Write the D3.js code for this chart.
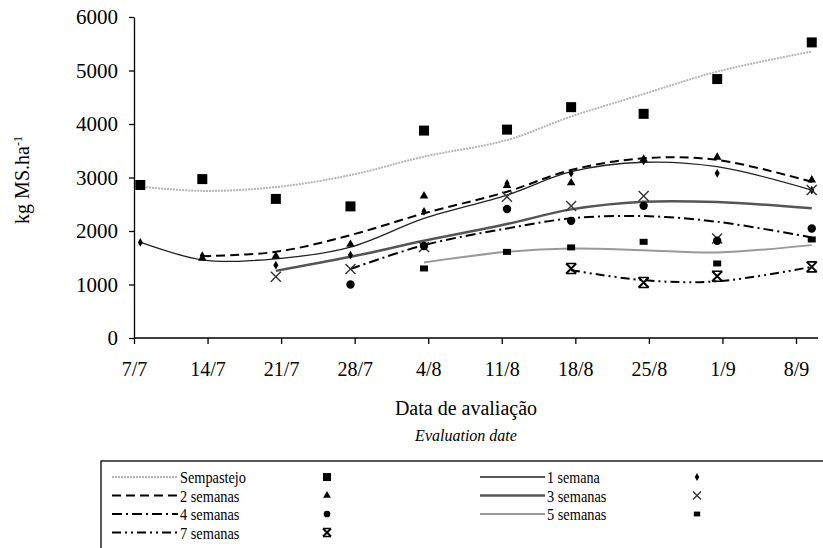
<!DOCTYPE html>
<html>
<head>
<meta charset="utf-8">
<script src="https://cdn.jsdelivr.net/npm/d3@7/dist/d3.min.js"></script>
<style>
  body { margin: 0; background: #fff; }
  svg text { font-family: "Liberation Serif", "Times New Roman", Times, serif; fill: #000; }
</style>
</head>
<body>
<script>

// sampling days (days after 7/7) and tick labels
var dias = [0.6, 6.5, 13.5, 20.6, 27.6, 35.5, 41.6, 48.5, 55.5, 64.5]
var tickDias = [0, 7, 14, 21, 28, 35, 42, 49, 56, 63]
var tickLabels = ["7/7", "14/7", "21/7", "28/7", "4/8", "11/8", "18/8", "25/8", "1/9", "8/9"]

// observed points
var semPastejo = [2860, 2970, 2600, 2460, 3877, 3895, 4315, 4190, 4840, 5525]
var sem1 = [1786, 1540, 1360, 1550, 2367, 2890, 3080, 3310, 3079, 2766]
var sem2 = [null, 1490, 1530, 1750, 2653, 2850, 2900, 3340, 3378, 2953]
var sem3 = [null, null, 1143, 1290, 1700, 2640, 2466, 2653, 1861, 2766]
var sem4 = [null, null, null, 1000, 1720, 2410, 2190, 2470, 1817, 2048]
var sem5 = [null, null, null, null, 1300, 1610, 1693, 1798, 1393, 1842]
var sem7 = [null, null, null, null, null, null, 1300, 1037, 1155, 1330]

// fitted curves
var fitSemPastejo = [2830, 2750, 2820, 3045, 3390, 3700, 4140, 4560, 4980, 5355]
var fit1 = [1790, 1460, 1480, 1700, 2236, 2672, 3109, 3285, 3202, 2766]
var fit2 = [null, 1530, 1610, 1923, 2330, 2734, 3140, 3360, 3328, 2921]
var fit3 = [null, null, 1255, 1517, 1817, 2130, 2404, 2547, 2541, 2423]
var fit4 = [null, null, null, 1290, 1736, 2048, 2236, 2279, 2172, 1880]
var fit5 = [null, null, null, null, 1412, 1610, 1674, 1642, 1600, 1736]
var fit7 = [null, null, null, null, null, null, 1268, 1080, 1060, 1330]

var yTicks = [0, 1000, 2000, 3000, 4000, 5000, 6000]

var series = [
    {nome: "Sempastejo", pts: semPastejo, fit: fitSemPastejo, cor: "#b5b5b5", w: 2, dash: "2,1", mk: "square"},
    {nome: "1 semana", pts: sem1, fit: fit1, cor: "#222", w: 1.3, dash: null, mk: "diamond"},
    {nome: "2 semanas", pts: sem2, fit: fit2, cor: "#000", w: 2, dash: "9,5", mk: "triangle"},
    {nome: "3 semanas", pts: sem3, fit: fit3, cor: "#555", w: 2.5, dash: null, mk: "x"},
    {nome: "4 semanas", pts: sem4, fit: fit4, cor: "#000", w: 2, dash: "10,4,2,4", mk: "circle"},
    {nome: "5 semanas", pts: sem5, fit: fit5, cor: "#999", w: 2, dash: null, mk: "rect"},
    {nome: "7 semanas", pts: sem7, fit: fit7, cor: "#000", w: 2, dash: "9,4,2,4,2,4", mk: "xbar"}
]

var fonte = "'Liberation Serif', 'Times New Roman', serif";

var svg = d3.select("body").append("svg")
          .attr("width", 823)
          .attr("height", 548)
          .attr("font-family", fonte);

var x = d3.scaleLinear().domain([0, 63]).range([134, 796]);
var y = d3.scaleLinear().domain([0, 6000]).range([338, 17]);

// y axis
svg.append("g")
    .attr("transform", "translate(134,0)")
    .call(d3.axisLeft(y).tickValues(yTicks).tickFormat(d3.format("d")).tickSize(5).tickSizeOuter(0).tickPadding(11))
    .call(function(g) {
        g.attr("font-family", fonte).attr("font-size", 21);
        g.selectAll("line, path").attr("stroke", "#000").attr("stroke-width", 1.3);
    });

// x axis
svg.append("g")
    .attr("transform", "translate(0,338)")
    .call(d3.axisBottom(x).tickValues(tickDias).tickFormat(function(d, i) {return tickLabels[i]})
        .tickSize(6).tickSizeOuter(0).tickPadding(18))
    .call(function(g) {
        g.attr("font-family", fonte).attr("font-size", 20);
        g.select(".domain").remove();
        g.selectAll("line").attr("stroke", "#000").attr("stroke-width", 1.3);
    });
svg.append("line")
    .attr("x1", 134).attr("x2", 818).attr("y1", 338).attr("y2", 338)
    .attr("stroke", "#000").attr("stroke-width", 1.3);

// titles
svg.append("text")
    .attr("x", 466).attr("y", 415)
    .attr("text-anchor", "middle")
    .attr("font-size", 20)
    .text("Data de avaliação");
svg.append("text")
    .attr("x", 466).attr("y", 441)
    .attr("text-anchor", "middle")
    .attr("font-size", 16).attr("font-style", "italic")
    .text("Evaluation date");

var yt = svg.append("text")
    .attr("transform", "translate(29,180) rotate(-90)")
    .attr("text-anchor", "middle")
    .attr("font-size", 20);
yt.append("tspan").text("kg MS.ha");
yt.append("tspan").attr("dy", -7).attr("font-size", 12).text("-1");

// fitted lines
var linha = d3.line()
    .defined(function(d) {return d != null})
    .x(function(d, i) {return x(dias[i])})
    .y(function(d) {return y(d)})
    .curve(d3.curveCatmullRom);

series.forEach(function(s) {
    svg.append("path")
        .attr("d", linha(s.fit))
        .attr("fill", "none")
        .attr("stroke", s.cor)
        .attr("stroke-width", s.w)
        .attr("stroke-dasharray", s.dash);
});

// markers
function marker(g, tipo, cx, cy, big) {
    var k = big ? 1 : 0.8;
    if (tipo == "square") {
        g.append("rect").attr("x", cx - 5 * k).attr("y", cy - 5 * k).attr("width", 10 * k).attr("height", 10 * k).attr("fill", "#000");
    } else if (tipo == "diamond") {
        g.append("path").attr("d", d3.symbol(d3.symbolDiamond, 22 * k)()).attr("transform", "translate(" + cx + "," + cy + ")").attr("fill", "#000");
    } else if (tipo == "triangle") {
        g.append("path").attr("d", d3.symbol(d3.symbolTriangle, 32 * k)()).attr("transform", "translate(" + cx + "," + cy + ")").attr("fill", "#000");
    } else if (tipo == "circle") {
        g.append("circle").attr("cx", cx).attr("cy", cy).attr("r", 4.2 * k).attr("fill", "#000");
    } else if (tipo == "rect") {
        g.append("rect").attr("x", cx - 4 * k).attr("y", cy - 3 * k).attr("width", 8 * k).attr("height", 6 * k).attr("fill", "#000");
    } else if (tipo == "x" || tipo == "xbar") {
        var r = 5 * k;
        g.append("path")
            .attr("d", "M" + (cx - r) + "," + (cy - r) + "L" + (cx + r) + "," + (cy + r) + "M" + (cx - r) + "," + (cy + r) + "L" + (cx + r) + "," + (cy - r))
            .attr("stroke", tipo == "x" ? "#333" : "#000").attr("stroke-width", tipo == "x" ? 1.4 : 2).attr("fill", "none");
        if (tipo == "xbar") {
            g.append("path")
                .attr("d", "M" + (cx - r) + "," + (cy - r) + "H" + (cx + r) + "M" + (cx - r) + "," + (cy + r) + "H" + (cx + r))
                .attr("stroke", "#000").attr("stroke-width", 1.6);
        }
    }
}

var gm = svg.append("g");
series.forEach(function(s) {
    s.pts.forEach(function(v, i) {
        if (v != null) marker(gm, s.mk, x(dias[i]), y(v), true);
    });
});

// legend
var leg = svg.append("g");
leg.append("rect")
    .attr("x", 101).attr("y", 461).attr("width", 740).attr("height", 120)
    .attr("fill", "none").attr("stroke", "#000").attr("stroke-width", 1.3);

var legPos = [
    {col: 0, row: 0}, {col: 1, row: 0},
    {col: 0, row: 1}, {col: 1, row: 1},
    {col: 0, row: 2}, {col: 1, row: 2},
    {col: 0, row: 3}
];
var colX = [{l1: 112, l2: 178, mk: 327}, {l1: 480, l2: 545, mk: 697}];

series.forEach(function(s, i) {
    var p = legPos[i];
    var c = colX[p.col];
    var ly = 477 + p.row * 18.5;
    leg.append("line")
        .attr("x1", c.l1).attr("x2", c.l2).attr("y1", ly).attr("y2", ly)
        .attr("stroke", s.cor).attr("stroke-width", s.w)
        .attr("stroke-dasharray", s.dash);
    leg.append("text")
        .attr("x", c.l2 + 2).attr("y", ly + 6)
        .attr("font-size", 17)
        .attr("textLength", s.nome.length * 6.6)
        .attr("lengthAdjust", "spacingAndGlyphs")
        .text(s.nome);
    marker(leg, s.mk, c.mk, ly, false);
});

</script>
</body>
</html>
